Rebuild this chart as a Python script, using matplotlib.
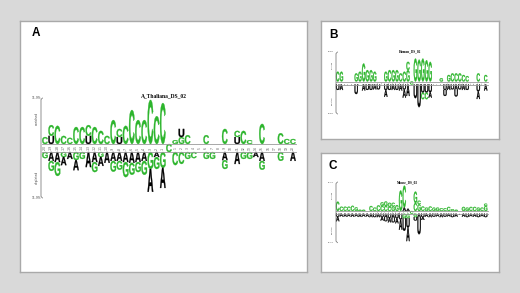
import matplotlib
matplotlib.use('Agg')
import matplotlib.pyplot as plt
from matplotlib.textpath import TextPath
from matplotlib.patches import PathPatch
from matplotlib.transforms import Affine2D
from matplotlib.font_manager import FontProperties

# ---------------- data (heights in %) ----------------
# position labels, 41 positions with the modified site in the middle
positions = [str(i) for i in range(-20, 21)]
center_letter = 'C'

# A_Thaliana_DS_02
a_up_letters = ['C', 'UC', 'C', 'C', 'C', 'C', 'C', 'UC', 'C', 'C', 'C', 'C', 'UC', 'C', 'C', 'C', 'C',
                'C', 'C', 'C', '', 'G', 'GU', 'C', '', '', 'C', '', '', 'C', '', 'UC', 'C', 'C', '',
                'C', '', '', 'C', 'C', 'C']
a_up_heights = [[1.8], [2.1, 2.8], [4.7], [2.1], [1.6], [4.4], [4.4], [2.1, 2.8], [4.4], [3.4], [2.1],
                [6.2], [1.8, 2.1], [4.7], [8.8], [6.2], [6.2], [11.4], [7.2], [10.6], [], [1.0],
                [1.8, 2.1], [2.3], [], [], [2.3], [], [], [3.9], [], [1.8, 1.6], [3.4], [1.0], [],
                [5.2], [], [], [2.8], [1.3], [1.3]]
a_dn_letters = ['G', 'AG', 'AG', 'GA', 'A', 'GA', 'G', 'A', 'AG', 'GA', 'A', 'AG', 'AG', 'AG', 'AG',
                'AG', 'AG', 'GA', 'AG', 'GA', '', 'C', 'C', 'G', 'C', '', 'G', 'G', '', 'AG', '', 'A',
                'G', 'G', 'A', 'AG', '', '', 'G', '', 'A']
a_dn_heights = [[1.6], [2.3, 2.6], [2.6, 3.6], [1.3, 2.1], [1.8], [2.1, 2.6], [1.8], [3.9], [2.6, 2.6],
                [1.3, 2.3], [2.8], [2.3, 2.8], [2.3, 2.3], [2.6, 3.9], [2.8, 3.1], [2.6, 2.6],
                [2.3, 3.6], [4.4, 5.9], [1.3, 3.1], [4.1, 5.2], [], [3.4], [3.1], [1.8], [1.6], [],
                [1.8], [1.8], [], [2.1, 2.3], [], [3.1], [1.8], [1.8], [1.3], [2.3, 2.3], [], [],
                [2.3], [], [2.3]]

# Human_DS_02
b_up_letters = ['C', 'G', '', '', '', 'G', 'G', 'G', 'G', 'G', 'G', '', '', 'G', 'C', 'G', 'G', 'C',
                'C', 'GC', '', 'G', 'G', 'G', 'G', 'G', '', '', 'G', '', 'G', 'C', 'C', 'C', 'C', 'C',
                '', '', 'C', '', 'C']
b_up_heights = [[3.6], [3.6], [], [], [], [3.0], [3.6], [6.6], [4.2], [4.2], [3.6], [], [], [3.6],
                [4.2], [4.2], [4.2], [3.0], [3.6], [4.2, 3.0], [], [8.4], [8.0], [8.4], [7.8], [7.2],
                [], [], [1.2], [], [2.4], [3.0], [3.0], [3.0], [2.4], [2.0], [], [], [3.0], [], [2.4]]
b_dn_letters = ['U', 'A', '', '', '', 'U', '', 'A', 'U', 'U', 'A', 'U', '', 'UA', 'U', 'A', 'U', 'A',
                'UA', 'A', '', 'U', 'U', 'UC', 'UC', 'UA', '', '', '', 'UU', 'A', 'U', 'AU', 'U', 'A',
                'U', '', '', 'UA', '', 'A']
b_dn_heights = [[2.0], [2.0], [], [], [], [3.5], [], [2.2], [2.0], [2.0], [1.8], [1.8], [], [2.0, 2.5],
                [2.0], [2.0], [2.0], [2.2], [1.8, 3.0], [4.2], [], [5.0], [8.3], [3.0, 2.4],
                [3.0, 2.4], [2.8, 2.0], [], [], [], [2.0, 2.2], [2.0], [1.8], [2.0, 2.4], [1.8],
                [2.0], [2.0], [], [], [2.5, 2.8], [], [2.2]]

# Mouse_DS_02
c_up_letters = ['C', 'C', 'C', 'C', 'C', 'G', 'C', 'C', '', 'C', 'C', 'C', 'CG', 'CG', 'CG', 'GC', 'G',
                'G', 'AC', 'A', '', 'CG', 'GC', 'C', 'G', 'C', 'G', 'G', 'C', 'C', 'C', 'C', 'C', '',
                'G', 'G', 'C', 'C', 'G', 'C', 'GC']
c_up_heights = [[4.1], [1.9], [1.9], [1.9], [2.3], [1.6], [0.5], [0.5], [], [2.2], [1.5], [2.5],
                [2.2, 1.6], [2.2, 2.0], [1.8, 1.8], [2.0, 1.6], [2.6], [9.0], [1.6, 9.5], [1.0], [],
                [3.5, 5.0], [3.0, 1.5], [2.0], [1.5], [2.0], [1.5], [1.5], [1.2], [1.2], [1.8], [0.8],
                [0.5], [], [1.8], [1.5], [1.8], [1.8], [1.5], [1.5], [2.2, 1.0]]
c_dn_letters = ['UA', 'A', 'A', 'A', 'A', 'A', 'A', 'A', 'A', 'A', 'U', 'A', 'UA', 'AU', 'UA', 'AU',
                'UA', 'UA', 'GU', 'GUA', '', 'GU', 'AU', 'UA', 'A', 'A', 'U', 'A', 'A', 'U', 'A', 'U',
                'A', '', 'A', 'U', 'A', 'A', 'U', 'A', 'U']
c_dn_heights = [[1.3, 2.0], [1.2], [1.3], [1.2], [1.3], [1.2], [1.4], [1.2], [1.3], [1.5], [1.5],
                [1.5], [1.5, 1.5], [1.8, 1.5], [1.8, 2.0], [2.0, 1.8], [2.0, 2.2], [2.5, 4.5],
                [2.0, 5.5], [2.0, 4.0, 6.0], [], [1.5, 1.5], [1.5, 7.5], [1.5, 1.2], [1.3], [1.5],
                [1.3], [1.2], [1.5], [1.3], [1.2], [1.5], [1.3], [], [1.3], [1.5], [1.2], [1.3],
                [1.5], [1.2], [1.5]]

# ---------------- drawing ----------------
W, H = 520, 293
GREEN = '#2db52d'
colors = {'C': GREEN, 'G': GREEN, 'A': 'black', 'U': 'black'}
FP = FontProperties(family='Liberation Sans', weight='bold')

fig = plt.figure(figsize=(W / 100, H / 100), dpi=100)
fig.patch.set_facecolor('#d9d9d9')


def letter(ax, ch, xc, y0, w, h):
    tp = TextPath((0, 0), ch, size=1, prop=FP)
    bb = tp.get_extents()
    tr = Affine2D().translate(-bb.x0, -bb.y0).scale(w / bb.width, h / bb.height).translate(xc - w / 2, y0)
    # thin edge in the same colour makes the glyphs a bit heavier, like the original
    ax.add_patch(PathPatch(tr.transform_path(tp), fc=colors[ch], ec=colors[ch], lw=0.2))


def panel(box, geo, label, label_px, title, title_px, ymax, up_l, up_h, dn_l, dn_h, fs):
    L, T, R, B = box
    ax = fig.add_axes([L / W, 1 - B / H, (R - L) / W, (B - T) / H])
    ax.set_facecolor('white')
    for sp in ax.spines.values():
        sp.set_color('#a9a9a9')
        sp.set_linewidth(1)
    ax.set_xticks([])
    ax.set_yticks([])
    x0, dx, yb, gap_px, top_px = geo
    s = (yb - top_px) / ymax          # px per %
    ax.set_xlim((L - x0) / dx, (R - x0) / dx)
    ax.set_ylim((yb - B) / s, (yb - T) / s)
    X = lambda px: (px - x0) / dx
    Y = lambda py: (yb - py) / s
    gap = gap_px / s
    n = len(positions)
    w = 0.9

    # letters
    for i in range(n):
        y = 0.0
        for ch, h in zip(up_l[i], up_h[i]):
            letter(ax, ch, i, y, w, h)
            y += h
        y = -gap
        for ch, h in zip(dn_l[i], dn_h[i]):
            letter(ax, ch, i, y - h, w, h)
            y -= h

    # position band
    ax.plot([-0.5, n - 0.5], [0, 0], color='#9a9a9a', lw=0.6)
    ax.plot([-0.5, n - 0.5], [-gap, -gap], color='#9a9a9a', lw=0.6)
    for i, p in enumerate(positions):
        if i == n // 2:
            letter(ax, center_letter, i, -gap, w, gap)
        else:
            ax.text(i, -gap / 2, p, fontsize=fs * 0.55, rotation=90, ha='center', va='center',
                    color='#555555')

    # y axis bracket
    bx = X(label_px[2])
    t = 1.5 / dx
    c = 1.5 / s
    bot = -gap - ymax
    ax.plot([bx + t, bx, bx, bx + t], [ymax, ymax - c, bot + c, bot], color='#666666', lw=0.5)
    ax.text(X(label_px[2] - 5), ymax, f'{ymax}%', fontsize=fs * 0.55, ha='center', va='center',
            color='#444444')
    ax.text(X(label_px[2] - 5), bot, f'{ymax}%', fontsize=fs * 0.55, ha='center', va='center',
            color='#444444')
    ax.text(X(label_px[2] - 4), ymax * 0.55, 'enriched', fontsize=fs * 0.55, rotation=90,
            ha='center', va='center', color='#444444')
    ax.text(X(label_px[2] - 4), bot + ymax * 0.45, 'depleted', fontsize=fs * 0.55, rotation=90,
            ha='center', va='center', color='#444444')

    ax.text(X(title_px[0]), Y(title_px[1]), title, fontsize=fs, family='Liberation Serif',
            weight='bold', ha='center', va='center')
    ax.text(X(label_px[0]), Y(label_px[1]), label, fontsize=8.5, family='Liberation Sans',
            weight='bold', ha='center', va='center')


panel((20, 21, 307, 272), (45, 6.2, 144, 8, 98), 'A', (35.5, 33.5, 41), 'A_Thaliana_DS_02',
      (164, 95.5), 11.9, a_up_letters, a_up_heights, a_dn_letters, a_dn_heights, 4.0)
panel((321, 21, 499, 139), (337.7, 3.7, 81.5, 3, 52), 'B', (334, 34.5, 336), 'Human_DS_02',
      (410, 51), 10.8, b_up_letters, b_up_heights, b_dn_letters, b_dn_heights, 2.4)
panel((321, 153, 499, 272), (337.7, 3.7, 211, 2.7, 182), 'C', (332.5, 165.5, 336), 'Mouse_DS_02',
      (407, 182), 12.7, c_up_letters, c_up_heights, c_dn_letters, c_dn_heights, 2.4)

fig.savefig('out.png', dpi=100, facecolor=fig.get_facecolor())
